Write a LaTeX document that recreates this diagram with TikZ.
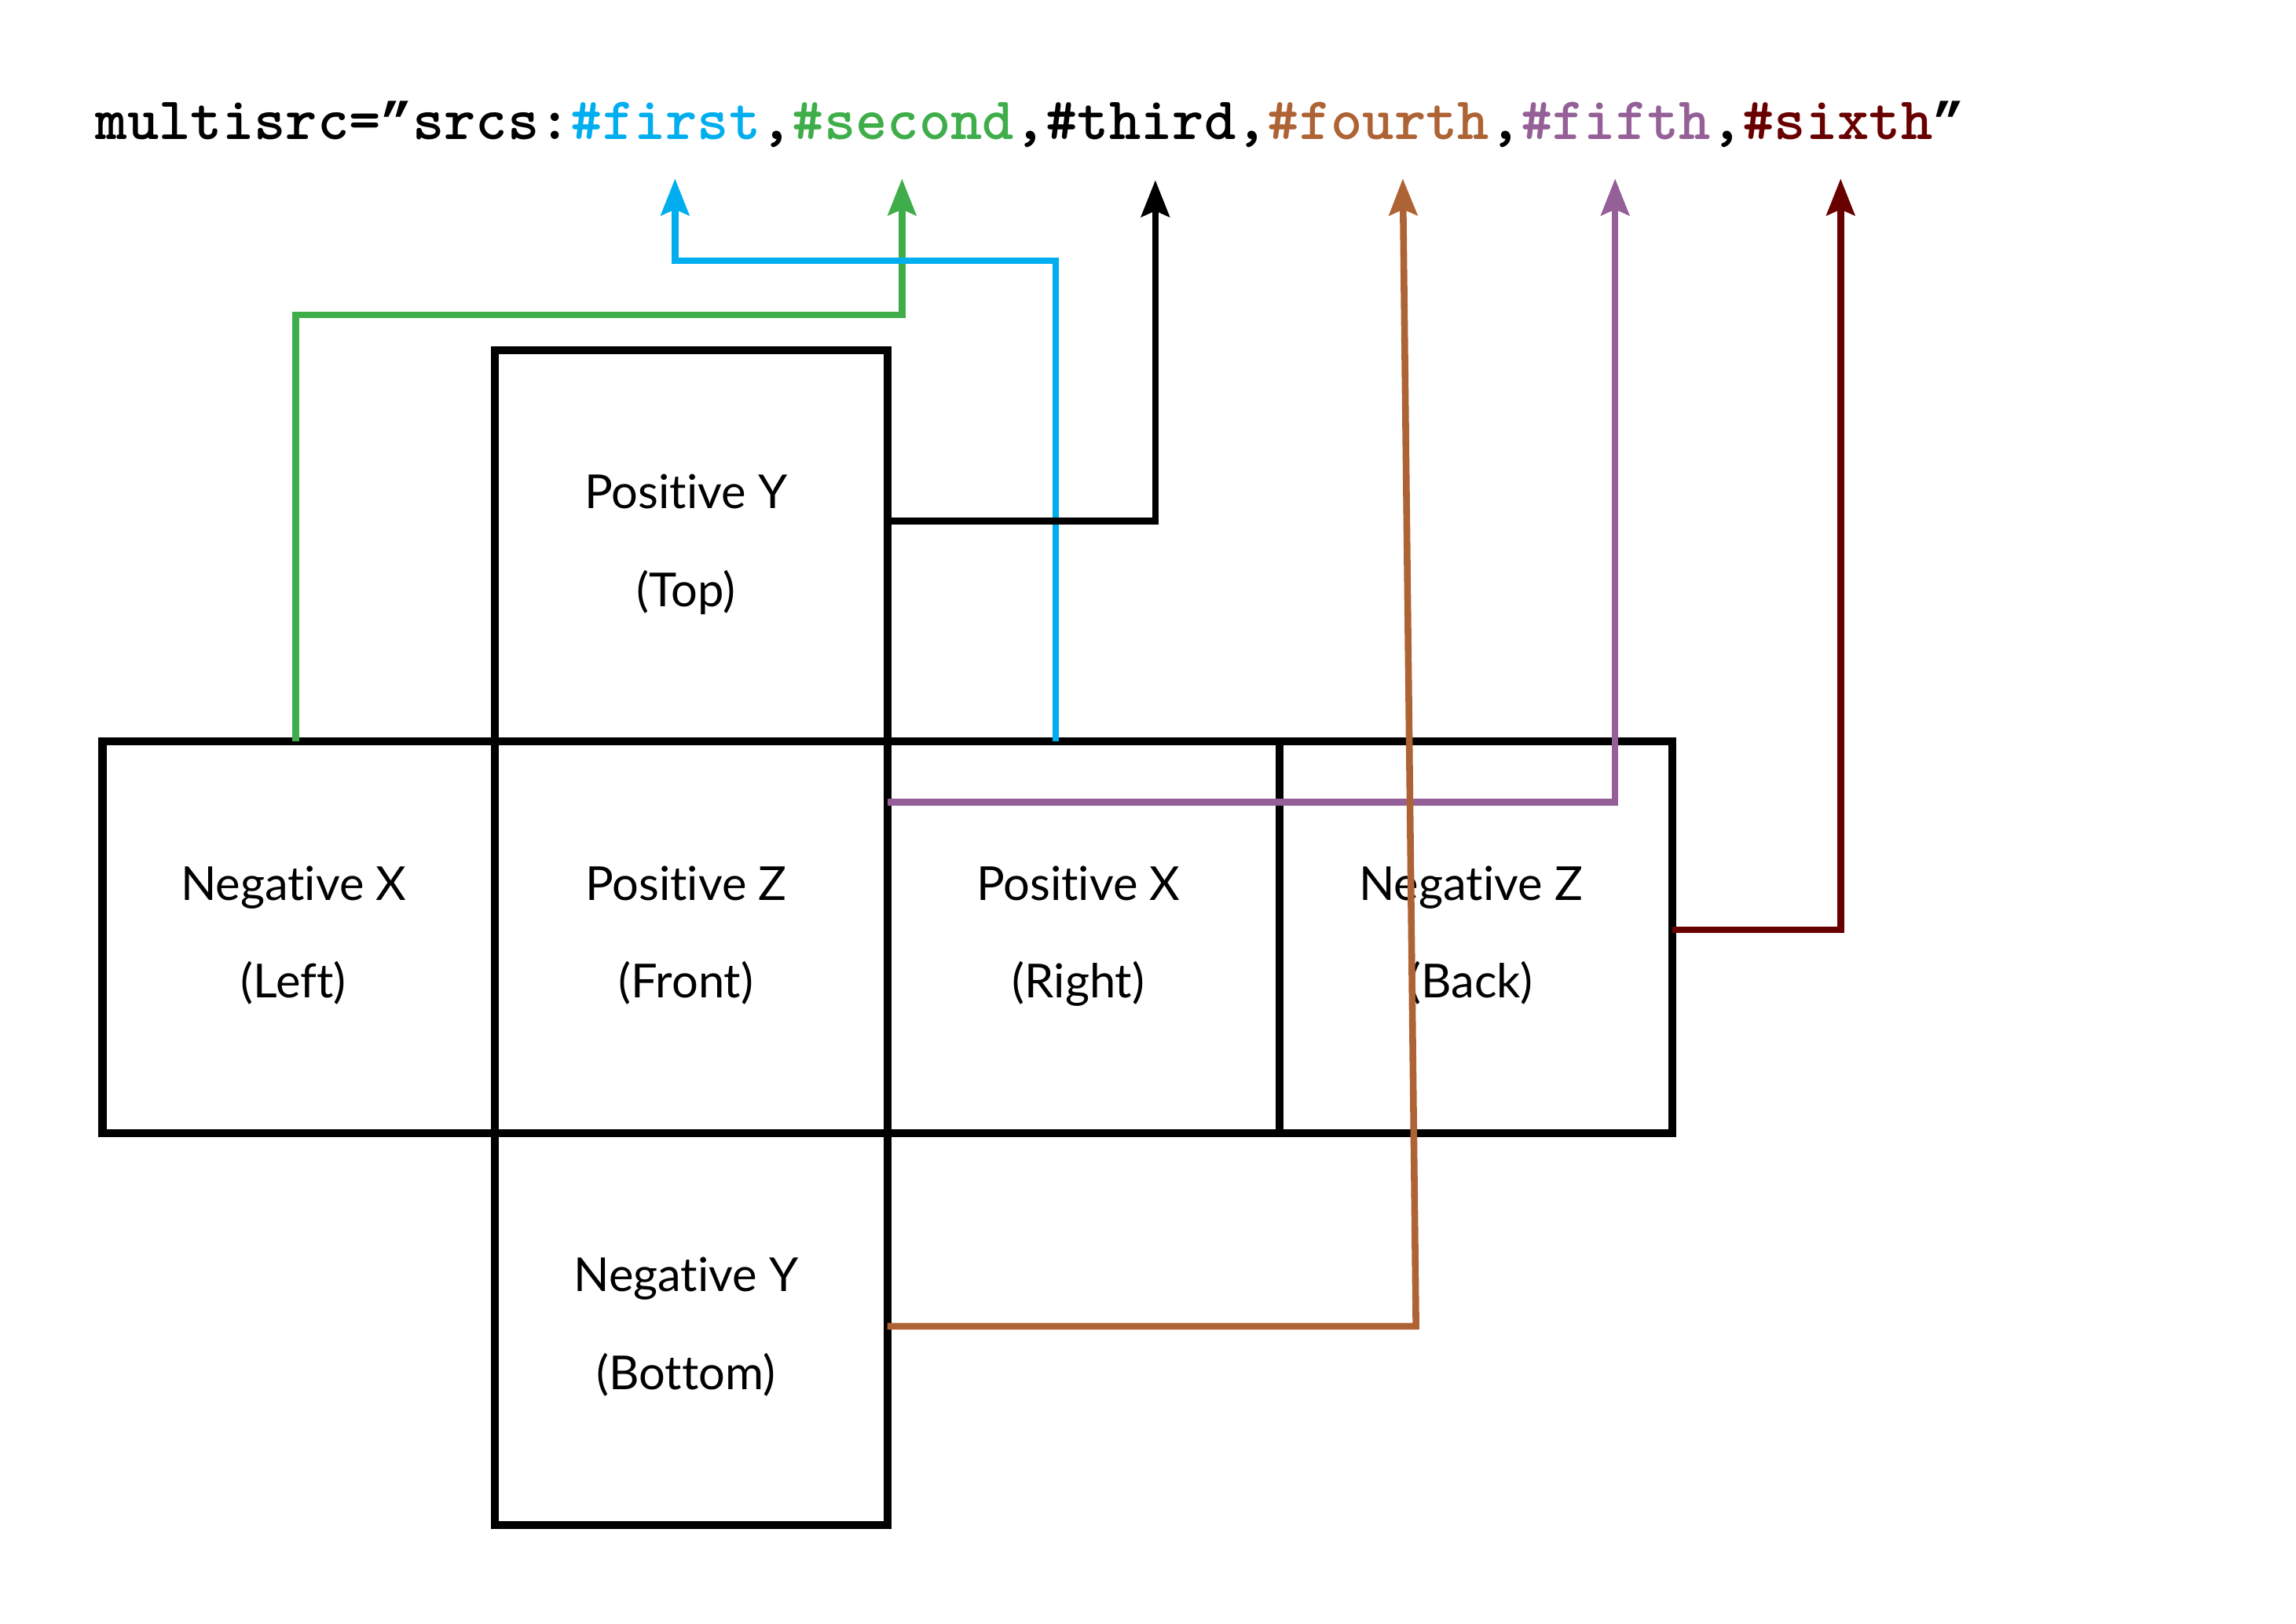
\documentclass[tikz,border=0pt]{standalone}
\usepackage{fontspec}
\newfontfamily\labelfont{Lato}[Ligatures={NoCommon,NoRare}]
\newfontfamily\quotefont{Liberation Mono}
\usetikzlibrary{arrows.meta}
\definecolor{cblue}{HTML}{00AEEF}
\definecolor{cgreen}{HTML}{3FAE4A}
\definecolor{cbrown}{HTML}{AE6334}
\definecolor{cpurple}{HTML}{946097}
\definecolor{cdred}{HTML}{690000}
\tikzset{
  facebox/.style={draw=black, line width=2.7pt, minimum width=134pt, minimum height=133.75pt, inner sep=0pt, outer sep=0pt},
  facetext/.style={font=\labelfont\fontsize{16pt}{18pt}\selectfont, inner sep=0pt, anchor=base},
  conn/.style={line width=2.3pt, -{Stealth[length=12.5pt, width=9.6pt, inset=2pt]}},
  title/.style={font=\fontsize{20.6pt}{24pt}\selectfont\ttfamily\bfseries, inner sep=0pt, anchor=base west}
}
\newcommand\cq{{\quotefont\bfseries\fontsize{18pt}{24pt}\selectfont ”}}
\newcommand\cubeface[5]{%
  \node[facebox] (#1) at (#2,#3) {};
  \node[facetext] (#1-a) at ([xshift=-1.75pt, yshift=12.75pt]#1.center) {#4};
  \node[facetext] (#1-b) at ([xshift=-1.75pt, yshift=-20.75pt]#1.center) {#5};
}
\begin{document}
\begin{tikzpicture}[x=0.5pt, y=-0.5pt]
\useasboundingbox (0,0) rectangle (1568,1109);
\node[title] (title) at (65,95) {multisrc=\cq srcs:\textcolor{cblue}{\#first},\textcolor{cgreen}{\#second},\#third,\textcolor{cbrown}{\#fourth},\textcolor{cpurple}{\#fifth},\textcolor{cdred}{\#sixth}\cq};
\cubeface{top}{472}{372.75}{Positive Y}{(Top)}
\cubeface{left}{204}{640.25}{Negative X}{(Left)}
\cubeface{front}{472}{640.25}{Positive Z}{(Front)}
\cubeface{right}{740}{640.25}{Positive X}{(Right)}
\cubeface{back}{1008}{640.25}{Negative Z}{(Back)}
\cubeface{bottom}{472}{907.75}{Negative Y}{(Bottom)}
\coordinate (t1) at (461,122);
\coordinate (t2) at (616,122);
\coordinate (t3) at (789,123);
\coordinate (t4) at (958,122);
\coordinate (t5) at (1103,122);
\coordinate (t6) at (1257,122);
\coordinate (k4) at (967,906);
\draw[conn, cgreen] ([xshift=-1pt]left.north) |- (t2 |- 0,215) -- (t2);
\draw[conn, cblue] ([xshift=-9.5pt]right.north) |- (t1 |- 0,178) -- (t1);
\draw[conn, black] ([yshift=8.4pt]top.east) -| (t3);
\draw[conn, cpurple] ([yshift=46.1pt]front.east) -| (t5);
\draw[conn, cdred] ([yshift=2.6pt]back.east) -| (t6);
\draw[conn, cbrown] ([yshift=0.9pt]bottom.east) -- (k4) -- (t4);
\end{tikzpicture}
\end{document}
